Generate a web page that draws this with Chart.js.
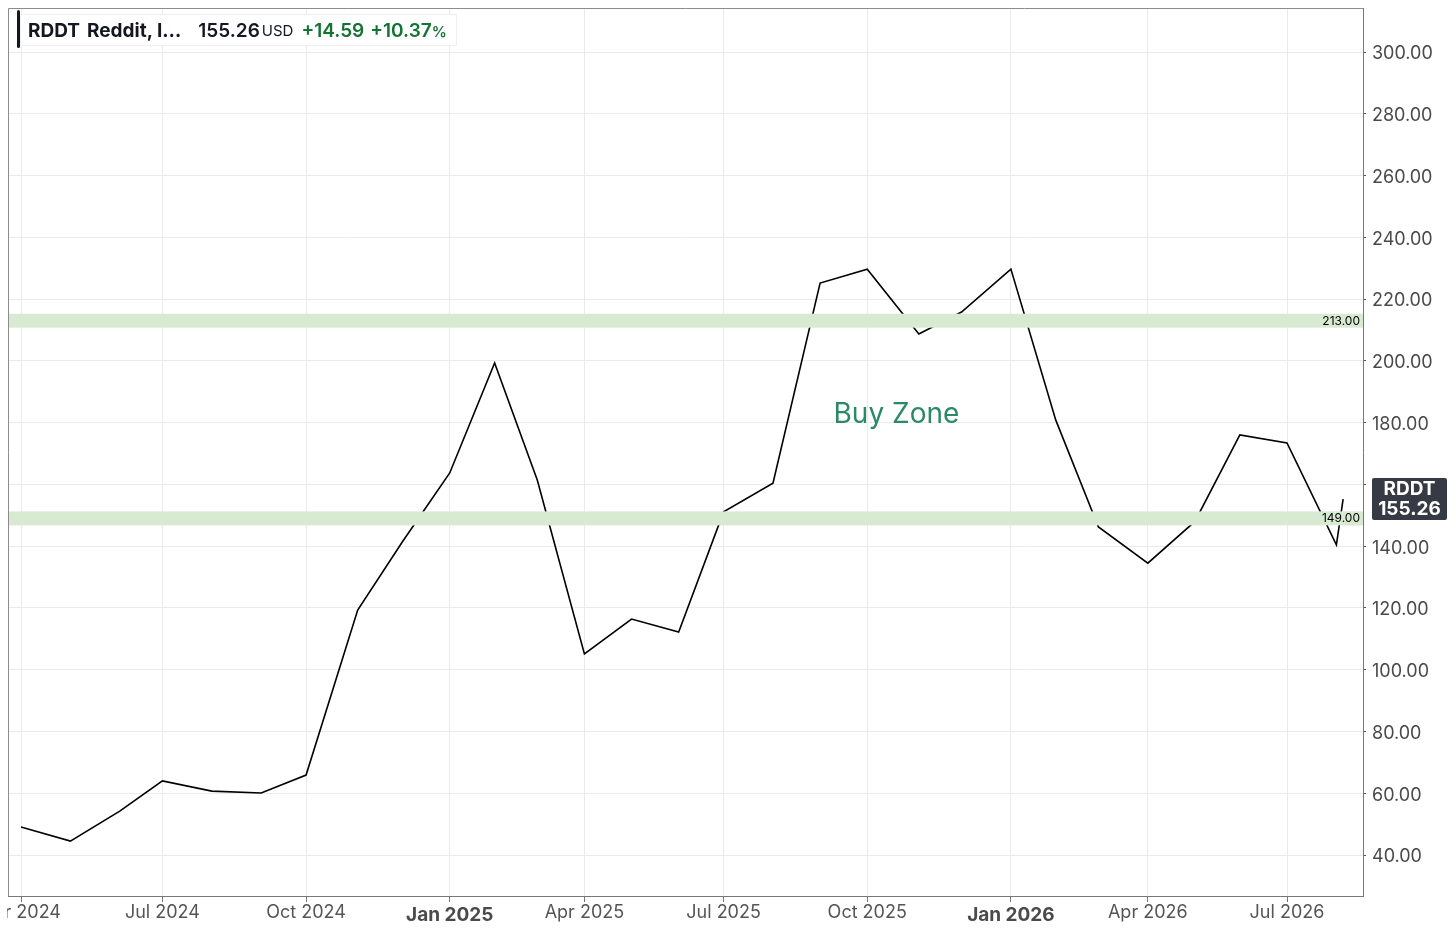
<!DOCTYPE html>
<html>
<head>
<meta charset="utf-8">
<title>RDDT</title>
<script src="https://cdn.jsdelivr.net/npm/chart.js@4.4.1/dist/chart.umd.min.js"></script>
<style>
  html, body { margin: 0; padding: 0; background: #fff; }
  #wrap { position: relative; width: 1456px; height: 933px; overflow: hidden; }
  #legend { position: absolute; left: 17px; top: 10px; font-family: Inter, "Noto Sans", sans-serif; color: #131722; }
  #legend .bar { position: absolute; left: 0; top: 0; width: 3px; height: 38px; background: #131722; border-radius: 2px; }
  #legend .box { position: absolute; left: 3px; top: 4px; height: 30px; width: 435px; background: rgba(255,255,255,0.95);
    border: 1px solid #f0f0f0; display: flex; align-items: center; white-space: nowrap; font-size: 19px; }
  #legend .sym { font-weight: 700; margin-left: 7px; }
  #legend .name { font-weight: 700; margin-left: 7px; }
  #legend .px { font-weight: 600; margin-left: 17px; }
  #legend .cur { font-size: 15px; margin-left: 2px; }
  #legend .chg { font-weight: 600; color: #137333; margin-left: 8px; }
  #legend .chg small { font-size: 15px; }
</style>
</head>
<body>
<div id="wrap">
  <canvas id="chart" width="1456" height="933"></canvas>
  <div id="legend">
    <span class="bar"></span>
    <div class="box">
      <span class="sym">RDDT</span>
      <span class="name">Reddit, I…</span>
      <span class="px">155.26</span><span class="cur">USD</span>
      <span class="chg">+14.59</span>
      <span class="chg" style="margin-left:6px">+10.37<small>%</small></span>
    </div>
  </div>
</div>
<script>
  // monthly closes (last point is the current price)
  const dates = [
    '2024-04-01', '2024-05-01', '2024-06-01', '2024-07-01', '2024-08-01', '2024-09-01',
    '2024-10-01', '2024-11-01', '2024-12-01', '2025-01-01', '2025-02-01', '2025-03-01',
    '2025-04-01', '2025-05-01', '2025-06-01', '2025-07-01', '2025-08-01', '2025-09-01',
    '2025-10-01', '2025-11-01', '2025-12-01', '2026-01-01', '2026-02-01', '2026-03-01',
    '2026-04-01', '2026-05-01', '2026-06-01', '2026-07-01', '2026-08-01', '2026-08-06'
  ];
  const closes = [
    49.1, 44.5, 54.2, 64.0, 60.7, 60.1,
    65.9, 119.3, 141.5, 163.7, 199.3, 161.4,
    105.1, 116.4, 112.2, 151.1, 160.4, 225.2,
    229.7, 208.7, 215.8, 229.7, 180.8, 146.2,
    134.5, 148.0, 176.0, 173.4, 140.4, 155.26
  ];

  const tickDates = ['2024-04-01', '2024-07-01', '2024-10-01', '2025-01-01', '2025-04-01',
    '2025-07-01', '2025-10-01', '2026-01-01', '2026-04-01', '2026-07-01'];
  const tickLabels = ['Apr 2024', 'Jul 2024', 'Oct 2024', 'Jan 2025', 'Apr 2025',
    'Jul 2025', 'Oct 2025', 'Jan 2026', 'Apr 2026', 'Jul 2026'];
  const yTicks = [40, 60, 80, 100, 120, 140, 160, 180, 200, 220, 240, 260, 280, 300];

  // market holidays: the time axis counts trading days only
  const holidays = [
    '2024-05-27', '2024-06-19', '2024-07-04', '2024-09-02', '2024-11-28', '2024-12-25',
    '2025-01-01', '2025-01-09', '2025-01-20', '2025-02-17', '2025-04-18', '2025-05-26',
    '2025-06-19', '2025-07-04', '2025-09-01', '2025-11-27', '2025-12-25',
    '2026-01-01', '2026-01-19', '2026-02-16', '2026-04-03', '2026-05-25', '2026-06-19', '2026-07-03'
  ];

  const zoneLevels = [213, 149];
  const zoneText = 'Buy Zone';
  const zoneTextAt = ['2025-10-20', 182.5];
  const symbol = 'RDDT';

  const day0 = Date.UTC(2024, 3, 1);
  const holidaySet = new Set(holidays);

  // number of trading days between 2024-04-01 and the given date
  function tradingDay(s) {
    const end = Date.parse(s + 'T00:00:00Z');
    let n = 0;
    for (let t = day0; t < end; t += 86400000) {
      const d = new Date(t);
      const wd = d.getUTCDay();
      if (wd === 0 || wd === 6) continue;
      if (holidaySet.has(d.toISOString().slice(0, 10))) continue;
      n++;
    }
    return n;
  }

  const points = dates.map((d, i) => ({ x: tradingDay(d), y: closes[i] }));
  const tickDays = tickDates.map(tradingDay);

  // axis range chosen so Apr 2024 sits at 21px and Jul 2026 at 1287px
  const pxPerDay = (1287 - 21) / tickDays[tickDays.length - 1];
  const xMin = -13 / pxPerDay;
  const xMax = (1363 - 21) / pxPerDay;

  const FONT = 'Inter, "Noto Sans", sans-serif';

  const overlay = {
    id: 'overlay',
    afterDatasetsDraw(chart) {
      const { ctx, chartArea: a, scales: { x, y } } = chart;
      ctx.save();
      // horizontal zones sit on top of the line
      zoneLevels.forEach(v => {
        const py = y.getPixelForValue(v);
        ctx.fillStyle = '#d9ead3';
        ctx.fillRect(a.left, py - 7, a.right - a.left, 14);
        ctx.fillStyle = '#000';
        ctx.font = '12px ' + FONT;
        ctx.textAlign = 'right';
        ctx.textBaseline = 'middle';
        ctx.fillText(v.toFixed(2), a.right - 3, py + 0.5);
      });
      ctx.fillStyle = '#2a8a63';
      ctx.font = '28px ' + FONT;
      ctx.textAlign = 'center';
      ctx.textBaseline = 'middle';
      ctx.fillText(zoneText, x.getPixelForValue(tradingDay(zoneTextAt[0])), y.getPixelForValue(zoneTextAt[1]));

      // top and left frame
      ctx.strokeStyle = '#8c8c8c';
      ctx.lineWidth = 1;
      ctx.beginPath();
      ctx.moveTo(a.left + 0.5, a.bottom);
      ctx.lineTo(a.left + 0.5, a.top + 0.5);
      ctx.lineTo(a.right, a.top + 0.5);
      ctx.stroke();
      ctx.restore();
    },
    afterDraw(chart) {
      const { ctx, chartArea: a, scales: { x, y } } = chart;
      ctx.save();
      // date labels, clipped at the left edge like the original
      ctx.beginPath();
      ctx.rect(7, a.bottom, chart.width - 7, chart.height - a.bottom);
      ctx.clip();
      ctx.textAlign = 'center';
      ctx.textBaseline = 'middle';
      tickDays.forEach((d, i) => {
        const bold = tickLabels[i].startsWith('Jan');
        ctx.font = (bold ? '700 19px ' : '18px ') + FONT;
        ctx.fillStyle = bold ? '#4a4a4a' : '#555';
        ctx.fillText(tickLabels[i], x.getPixelForValue(d), bold ? 915 : 913);
      });
      ctx.restore();

      // last price tag
      const last = closes[closes.length - 1];
      const py = y.getPixelForValue(last);
      ctx.save();
      ctx.fillStyle = '#363a45';
      ctx.beginPath();
      ctx.roundRect(1372, py - 21, 75, 42, 2);
      ctx.fill();
      ctx.fillStyle = '#fff';
      ctx.font = '700 19px ' + FONT;
      ctx.textAlign = 'center';
      ctx.textBaseline = 'middle';
      ctx.fillText(symbol, 1409.5, py - 10);
      ctx.fillText(last.toFixed(2), 1409.5, py + 10);
      ctx.restore();
    }
  };

  new Chart(document.getElementById('chart'), {
    type: 'line',
    data: {
      datasets: [{
        data: points,
        borderColor: '#000',
        borderWidth: 1.6,
        pointRadius: 0,
        tension: 0,
        fill: false
      }]
    },
    options: {
      responsive: false,
      animation: false,
      layout: { autoPadding: false, padding: { left: 8, top: 8, right: 0, bottom: 0 } },
      plugins: { legend: { display: false }, tooltip: { enabled: false } },
      scales: {
        x: {
          type: 'linear',
          min: xMin,
          max: xMax,
          afterBuildTicks: s => { s.ticks = tickDays.map(v => ({ value: v })); },
          ticks: { display: false },
          grid: { color: '#ebebeb', drawTicks: true, tickLength: 6, tickColor: '#777' },
          border: { color: '#777' },
          afterFit: s => { s.height = 37; s.paddingLeft = 0; s.paddingRight = 0; }
        },
        y: {
          position: 'right',
          min: 26.73,
          max: 314.25,
          afterBuildTicks: s => { s.ticks = yTicks.map(v => ({ value: v })); },
          ticks: {
            callback: v => Number(v).toFixed(2),
            font: { family: FONT, size: 18 },
            color: '#4a4a4a',
            padding: 6,
            labelOffset: 2
          },
          grid: { color: '#ebebeb', drawTicks: true, tickLength: 3, tickColor: '#555' },
          border: { color: '#777' },
          afterFit: s => { s.width = 93; s.paddingTop = 0; s.paddingBottom = 0; }
        }
      }
    },
    plugins: [overlay]
  });
</script>
</body>
</html>
